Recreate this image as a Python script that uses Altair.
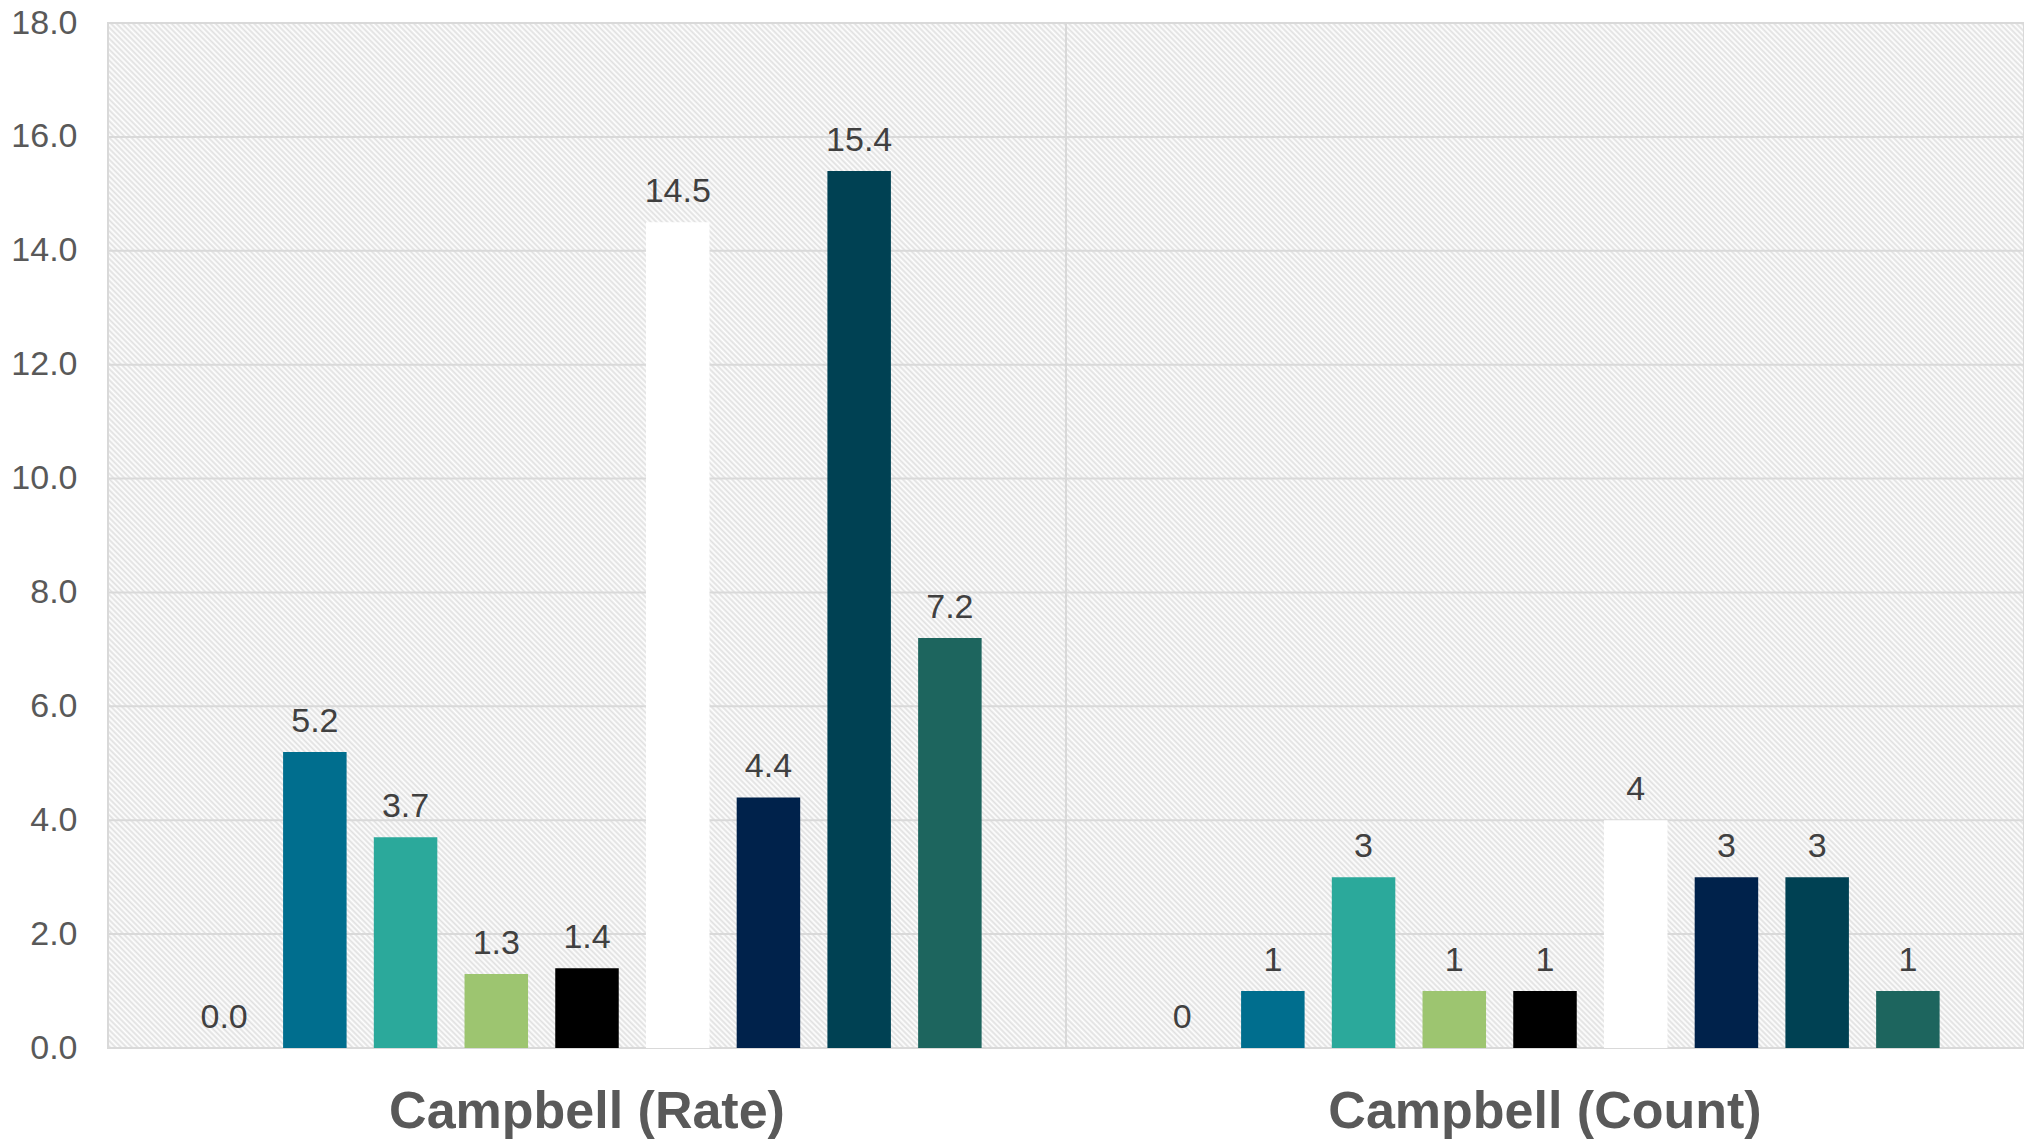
import math
import altair as alt
import pandas as pd

# ---- data ----
groups = ["Campbell (Rate)", "Campbell (Count)"]
series = ["S1", "S2", "S3", "S4", "S5", "S6", "S7", "S8", "S9"]
rate_values = [0.0, 5.2, 3.7, 1.3, 1.4, 14.5, 4.4, 15.4, 7.2]
count_values = [0, 1, 3, 1, 1, 4, 3, 3, 1]
series_colors = ["#7F7F7F", "#006E8E", "#2BA99B", "#9DC570", "#000000",
                 "#FFFFFF", "#00224B", "#004153", "#1D655E"]
y_ticks = [0, 2, 4, 6, 8, 10, 12, 14, 16, 18]
y_max = 18

rows = []
for s, v in zip(series, rate_values):
    rows.append({"group": groups[0], "series": s, "value": v, "label": f"{v:.1f}"})
for s, v in zip(series, count_values):
    rows.append({"group": groups[1], "series": s, "value": v, "label": f"{v:d}"})
df = pd.DataFrame(rows)

# ---- layout ----
W, H = 1916, 1025

# diagonal hatch ("\" at 45deg) as a striped linear gradient for each half panel
PW = W / 2
r = H / PW
sfac = (1 + r) / (1 + r * r)
span = (PW + H) / math.sqrt(2)
period = 5.5 / math.sqrt(2)
N = int(span / period)
stops = []
for i in range(2 * N + 1):
    stops.append({"offset": i / (2 * N), "color": "#ffffff" if i % 2 == 0 else "#e0e0e0"})
hatch = {"gradient": "linear", "x1": 0, "y1": 1, "x2": sfac, "y2": 1 - sfac * r, "stops": stops}

FONT = "Liberation Sans"

x_enc = alt.X("group:N", sort=groups,
              scale=alt.Scale(paddingInner=0, paddingOuter=0),
              axis=alt.Axis(title=None, labelAngle=0, labelFontSize=52, labelFontWeight="bold",
                            labelColor="#595959", labelFont=FONT, grid=False, labelLimit=0,
                            ticks=False, domain=False, labelPadding=38))
y_enc = alt.Y("value:Q", scale=alt.Scale(domain=[0, y_max], nice=False, zero=True),
              axis=alt.Axis(values=y_ticks, format=".1f", title=None, labelFontSize=34,
                            labelColor="#595959", labelFont=FONT, grid=False,
                            domain=False, ticks=False, labelPadding=31))

bg_df = pd.DataFrame({"group": groups, "lo": [0, 0], "hi": [y_max, y_max]})
background = alt.Chart(bg_df).mark_rect(fill=hatch, stroke="#d9d9d9", strokeWidth=2).encode(
    x=x_enc,
    y=alt.Y("lo:Q", scale=alt.Scale(domain=[0, y_max], nice=False, zero=True)),
    y2="hi:Q",
)

grid = alt.Chart(pd.DataFrame({"value": y_ticks})).mark_rule(
    color="#d9d9d9", strokeWidth=2).encode(y=y_enc)

divider = alt.Chart(pd.DataFrame({"group": groups[1:]})).mark_rule(
    color="#d9d9d9", strokeWidth=2).encode(
    x=alt.X("group:N", sort=groups, bandPosition=0),
    y=alt.datum(0), y2=alt.datum(y_max))

base = alt.Chart(df).encode(
    x=x_enc,
    xOffset=alt.XOffset("series:N", sort=series,
                        scale=alt.Scale(paddingInner=0.3, paddingOuter=0.93)),
    y=y_enc,
)

bars = base.mark_bar().encode(
    color=alt.Color("series:N", sort=series,
                    scale=alt.Scale(domain=series, range=series_colors), legend=None)
)

labels = base.mark_text(baseline="alphabetic", dy=-20, fontSize=34, font=FONT,
                        color="#404040").encode(text="label:N")

chart = alt.layer(background, grid, divider, bars, labels).properties(
    width=W, height=H,
    autosize=alt.AutoSizeParams(type="none"),
    padding={"left": 100, "top": 15, "right": 0, "bottom": 91},
).configure_view(
    stroke=None
).configure(
    background="white"
)

chart.save("out.html", embed_options={"renderer": "svg", "actions": False})
